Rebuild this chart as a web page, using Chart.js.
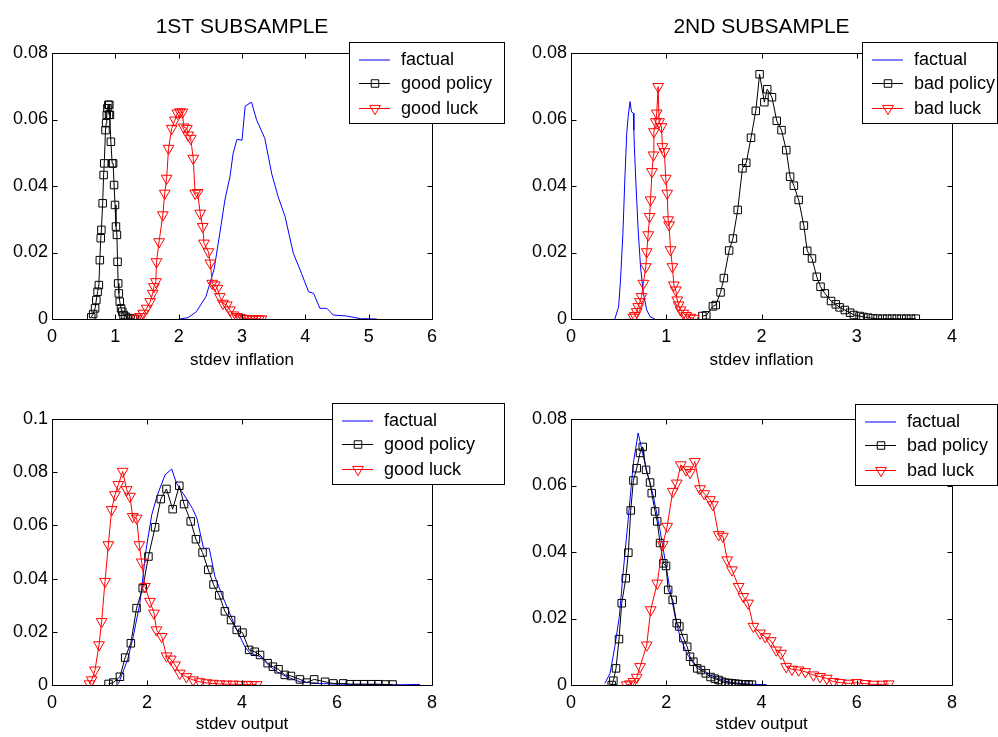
<!DOCTYPE html>
<html>
  <head>
    <title>Subsamples</title>
    <script src="https://cdn.jsdelivr.net/npm/chart.js"></script>
    <style>
      body { margin: 0; background: #fff; width: 998px; height: 737px; position: relative; overflow: hidden; }
      canvas { position: absolute; }
    </style>
  </head>
  <body>
    <canvas id="g1" width="520" height="375" style="left:0px;top:0px"></canvas>
    <canvas id="g2" width="498" height="375" style="left:500px;top:0px"></canvas>
    <canvas id="g3" width="520" height="362" style="left:0px;top:375px"></canvas>
    <canvas id="g4" width="498" height="362" style="left:500px;top:375px"></canvas>
  </body>
</html>

<script>
  // ---- ticks ----
  const ticksInfl1 = [0, 1, 2, 3, 4, 5, 6];
  const ticksInfl2 = [0, 1, 2, 3, 4];
  const ticksOutput = [0, 2, 4, 6, 8];
  const ticksY008 = [0, 0.02, 0.04, 0.06, 0.08];
  const ticksY01 = [0, 0.02, 0.04, 0.06, 0.08, 0.1];

  // ---- 1st subsample, stdev inflation ----
  const p1FactualX = [2.02, 2.15, 2.28, 2.43, 2.56, 2.65, 2.73, 2.81, 2.86, 2.92, 3.0, 3.05, 3.15, 3.23, 3.36, 3.47, 3.57, 3.68, 3.81, 3.94, 4.05, 4.13, 4.23, 4.34, 4.44, 4.65, 4.87, 5.13];
  const p1FactualY = [0, 0.0004, 0.0022, 0.0067, 0.015, 0.0258, 0.0358, 0.0428, 0.0498, 0.054, 0.0538, 0.064, 0.0652, 0.0599, 0.0543, 0.0436, 0.0368, 0.0308, 0.0198, 0.0137, 0.0082, 0.0077, 0.0032, 0.0032, 0.0012, 0.0009, 0.0001, 0];
  const p1PolicyX = [0.62, 0.65, 0.68, 0.70, 0.72, 0.74, 0.755, 0.77, 0.78, 0.80, 0.815, 0.825, 0.845, 0.855, 0.865, 0.875, 0.89, 0.90, 0.905, 0.915, 0.93, 0.95, 0.965, 0.98, 0.995, 1.01, 1.025, 1.035, 1.045, 1.055, 1.07, 1.09, 1.11, 1.13, 1.16, 1.20, 1.24, 1.28, 1.31];
  const p1PolicyY = [0.0005, 0.0015, 0.0032, 0.0057, 0.0082, 0.0102, 0.0177, 0.0243, 0.0268, 0.0348, 0.0433, 0.0468, 0.0568, 0.0589, 0.0614, 0.0634, 0.0644, 0.0614, 0.0644, 0.0614, 0.0533, 0.0468, 0.0468, 0.0403, 0.0343, 0.0278, 0.0253, 0.0172, 0.0107, 0.0077, 0.0052, 0.0032, 0.0022, 0.0012, 0.0007, 0.0003, 0.0001, 0, 0];
  const p1LuckX = [1.34, 1.39, 1.44, 1.495, 1.55, 1.59, 1.61, 1.64, 1.65, 1.69, 1.75, 1.78, 1.81, 1.84, 1.89, 1.94, 1.98, 2.02, 2.06, 2.08, 2.13, 2.15, 2.19, 2.23, 2.26, 2.30, 2.34, 2.38, 2.40, 2.47, 2.50, 2.53, 2.57, 2.61, 2.65, 2.70, 2.76, 2.81, 2.86, 2.92, 2.97, 3.02, 3.07, 3.12, 3.17, 3.22, 3.27, 3.31];
  const p1LuckY = [0.0002, 0.0007, 0.0017, 0.0032, 0.0052, 0.0077, 0.0097, 0.0112, 0.0172, 0.0232, 0.0313, 0.0378, 0.0423, 0.0513, 0.0573, 0.0598, 0.0619, 0.0623, 0.0622, 0.0577, 0.0573, 0.0553, 0.0543, 0.0483, 0.0378, 0.038, 0.0318, 0.0278, 0.0228, 0.0202, 0.0168, 0.0107, 0.0102, 0.0092, 0.0067, 0.0047, 0.0042, 0.0027, 0.0012, 0.0007, 0.0004, 0.0002, 0.0001, 0, 0, 0, 0, 0];

  // ---- 2nd subsample, stdev inflation ----
  const p2FactualX = [0.46, 0.50, 0.52, 0.545, 0.565, 0.585, 0.60, 0.62, 0.635, 0.655, 0.66, 0.665, 0.68, 0.705, 0.73, 0.76, 0.795, 0.83, 0.88];
  const p2FactualY = [0, 0.0037, 0.0117, 0.0258, 0.0418, 0.0558, 0.0608, 0.0654, 0.0623, 0.0619, 0.0568, 0.052, 0.0418, 0.0268, 0.0157, 0.0077, 0.0027, 0.0007, 0];
  const p2PolicyX = [1.38, 1.42, 1.49, 1.52, 1.57, 1.605, 1.66, 1.70, 1.75, 1.80, 1.84, 1.89, 1.94, 1.98, 2.03, 2.06, 2.11, 2.16, 2.21, 2.26, 2.30, 2.34, 2.39, 2.445, 2.48, 2.53, 2.58, 2.62, 2.665, 2.73, 2.78, 2.82, 2.875, 2.93, 2.97, 3.03, 3.07, 3.12, 3.17, 3.22, 3.27, 3.32, 3.37, 3.42, 3.47, 3.52, 3.57, 3.62];
  const p2PolicyY = [0.0009, 0.0011, 0.0038, 0.0042, 0.008, 0.0123, 0.0206, 0.0242, 0.0328, 0.0453, 0.047, 0.0545, 0.0626, 0.0736, 0.0652, 0.0691, 0.0667, 0.0596, 0.0568, 0.0508, 0.0428, 0.0401, 0.0358, 0.0281, 0.0205, 0.0182, 0.0127, 0.0097, 0.0077, 0.0054, 0.0044, 0.0035, 0.0027, 0.0019, 0.0012, 0.0009, 0.0006, 0.0004, 0.0002, 0.0001, 0.0001, 0.0001, 0.0001, 0.0001, 0.0001, 0.0001, 0.0001, 0.0001];
  const p2LuckX = [0.655, 0.67, 0.69, 0.705, 0.725, 0.74, 0.76, 0.785, 0.795, 0.81, 0.825, 0.835, 0.85, 0.865, 0.87, 0.89, 0.90, 0.915, 0.925, 0.95, 0.96, 0.98, 0.995, 1.01, 1.02, 1.03, 1.045, 1.065, 1.08, 1.10, 1.115, 1.13, 1.15, 1.18, 1.21, 1.25, 1.29];
  const p2LuckY = [0.0005, 0.001, 0.0022, 0.0037, 0.0052, 0.0067, 0.0107, 0.0157, 0.0202, 0.0253, 0.0308, 0.0358, 0.0443, 0.0493, 0.0563, 0.0593, 0.0619, 0.0699, 0.0593, 0.0578, 0.0518, 0.0503, 0.0423, 0.0378, 0.0298, 0.0283, 0.0208, 0.0157, 0.0102, 0.0087, 0.0057, 0.0042, 0.0027, 0.0017, 0.001, 0.0005, 0.0002];

  // ---- 1st subsample, stdev output ----
  const p3FactualX = [1.40, 1.47, 1.59, 1.71, 1.85, 1.98, 2.10, 2.22, 2.38, 2.52, 2.62, 2.73, 2.87, 2.97, 3.05, 3.12, 3.19, 3.31, 3.43, 3.57, 3.75, 3.89, 4.06, 4.17, 4.38, 4.56, 4.73, 4.94, 5.22, 5.57, 6.06, 6.62, 7.33, 7.75];
  const p3FactualY = [0.0005, 0.0038, 0.0094, 0.0182, 0.0307, 0.0508, 0.064, 0.0715, 0.079, 0.0812, 0.0759, 0.0728, 0.069, 0.0659, 0.0627, 0.0571, 0.0514, 0.0514, 0.0408, 0.0342, 0.0266, 0.0207, 0.0144, 0.0119, 0.0107, 0.0075, 0.005, 0.0031, 0.0012, 0.0006, 0.0003, 0.0002, 0.0001, 0.0002];
  const p3PolicyX = [1.19, 1.29, 1.43, 1.54, 1.66, 1.78, 1.91, 2.03, 2.17, 2.29, 2.41, 2.54, 2.68, 2.78, 2.92, 3.03, 3.17, 3.29, 3.40, 3.52, 3.64, 3.77, 3.89, 4.01, 4.15, 4.27, 4.38, 4.54, 4.65, 4.77, 4.90, 5.03, 5.22, 5.36, 5.52, 5.75, 5.92, 6.13, 6.27, 6.42, 6.57, 6.72, 6.87, 7.02, 7.17];
  const p3PolicyY = [0.0004, 0.0009, 0.0031, 0.0103, 0.0157, 0.0289, 0.0364, 0.0483, 0.0593, 0.0699, 0.0737, 0.0661, 0.0749, 0.068, 0.0615, 0.0548, 0.0498, 0.0433, 0.0378, 0.0337, 0.0277, 0.0244, 0.0207, 0.0197, 0.0132, 0.0125, 0.0113, 0.0082, 0.0069, 0.0059, 0.0038, 0.0034, 0.0021, 0.0009, 0.0021, 0.0012, 0.0006, 0.0006, 0.0003, 0.0003, 0.0003, 0.0003, 0.0003, 0.0002, 0.0002];
  const p3LuckX = [0.79, 0.835, 0.905, 0.99, 1.045, 1.116, 1.186, 1.256, 1.326, 1.396, 1.488, 1.572, 1.642, 1.698, 1.782, 1.838, 1.888, 1.958, 2.063, 2.147, 2.20, 2.31, 2.41, 2.50, 2.59, 2.69, 2.83, 2.97, 3.11, 3.25, 3.39, 3.53, 3.67, 3.81, 3.95, 4.09, 4.20, 4.31];
  const p3LuckY = [0.0004, 0.0019, 0.0056, 0.0151, 0.0238, 0.0389, 0.0527, 0.0659, 0.0715, 0.0753, 0.0803, 0.0734, 0.0709, 0.0633, 0.0627, 0.0527, 0.0462, 0.037, 0.0314, 0.027, 0.0207, 0.0182, 0.0109, 0.0097, 0.0075, 0.0044, 0.0031, 0.0019, 0.0012, 0.0008, 0.0006, 0.0004, 0.0003, 0.0003, 0.0002, 0.0002, 0.0001, 0.0001];

  // ---- 2nd subsample, stdev output ----
  const p4FactualX = [0.71, 0.82, 0.92, 1.015, 1.10, 1.20, 1.31, 1.41, 1.52, 1.62, 1.73, 1.87, 1.975, 2.08, 2.185, 2.29, 2.43, 2.57, 2.78, 2.92, 3.2, 3.5, 3.8, 4.11];
  const p4FactualY = [0.0005, 0.0035, 0.0115, 0.0206, 0.0346, 0.0497, 0.0668, 0.0758, 0.0687, 0.0627, 0.0567, 0.0465, 0.0376, 0.0286, 0.0206, 0.0145, 0.0095, 0.0065, 0.0045, 0.003, 0.0012, 0.0005, 0.0002, 0.0001];
  const p4PolicyX = [0.855, 0.89, 0.945, 1.008, 1.065, 1.15, 1.204, 1.254, 1.31, 1.38, 1.45, 1.506, 1.576, 1.66, 1.695, 1.765, 1.81, 1.87, 1.94, 1.996, 2.04, 2.135, 2.22, 2.275, 2.36, 2.44, 2.50, 2.57, 2.65, 2.73, 2.83, 2.93, 3.02, 3.10, 3.17, 3.24, 3.31, 3.38, 3.45, 3.52, 3.59, 3.66, 3.73, 3.80];
  const p4PolicyY = [0, 0.0013, 0.005, 0.0138, 0.0246, 0.0321, 0.0398, 0.0525, 0.0615, 0.0652, 0.0698, 0.0716, 0.0647, 0.0609, 0.0577, 0.0522, 0.0492, 0.0427, 0.0366, 0.0358, 0.0286, 0.0256, 0.0186, 0.0176, 0.0141, 0.0115, 0.0085, 0.007, 0.005, 0.0045, 0.0035, 0.0024, 0.0019, 0.0015, 0.001, 0.0007, 0.0006, 0.0005, 0.0004, 0.0003, 0.0002, 0.0002, 0.0001, 0.0001];
  const p4LuckX = [1.17, 1.24, 1.31, 1.38, 1.45, 1.59, 1.674, 1.81, 1.926, 2.02, 2.135, 2.22, 2.305, 2.416, 2.5, 2.6, 2.71, 2.80, 2.92, 2.98, 3.1, 3.19, 3.28, 3.38, 3.52, 3.62, 3.72, 3.83, 3.97, 4.08, 4.195, 4.31, 4.41, 4.52, 4.64, 4.78, 4.92, 5.09, 5.23, 5.37, 5.51, 5.65, 5.83, 6.0, 6.18, 6.35, 6.53, 6.67];
  const p4LuckY = [0, 0.0003, 0.001, 0.0023, 0.0055, 0.012, 0.0226, 0.0306, 0.0422, 0.0477, 0.0582, 0.0607, 0.0662, 0.0647, 0.0639, 0.0672, 0.059, 0.0575, 0.0557, 0.0542, 0.0452, 0.0447, 0.0376, 0.0346, 0.0296, 0.0266, 0.0246, 0.0176, 0.0156, 0.0145, 0.0133, 0.0105, 0.0095, 0.0055, 0.0047, 0.0045, 0.004, 0.003, 0.0025, 0.002, 0.001, 0.0007, 0.0005, 0.0007, 0.0004, 0.0002, 0.0002, 0.0003];

  const fonte = '"Liberation Sans", Arial, sans-serif';

  // junta os arrays x e y em pontos {x, y}
  function pontos(xs, ys) {
    return xs.map((x, i) => ({ x: x, y: ys[i] }));
  }

  // estilos das três séries (tipo matlab: linha azul, quadrados pretos, triângulos vermelhos)
  function serieFactual(xs, ys) {
    return { label: "factual", data: pontos(xs, ys), borderColor: "#0000ff", borderWidth: 1, pointRadius: 0, order: 3 };
  }
  function serieQuadrado(label, xs, ys) {
    return {
      label: label, data: pontos(xs, ys), borderColor: "#000000", borderWidth: 1,
      pointStyle: "rect", pointRadius: 5.3, pointBorderColor: "#000000",
      pointBackgroundColor: "rgba(0,0,0,0)", pointBorderWidth: 1, order: 2,
    };
  }
  function serieTriangulo(label, xs, ys) {
    return {
      label: label, data: pontos(xs, ys), borderColor: "#ff0000", borderWidth: 1,
      pointStyle: "triangle", pointRotation: 180, pointRadius: 6.2, pointBorderColor: "#ff0000",
      pointBackgroundColor: "rgba(0,0,0,0)", pointBorderWidth: 1, order: 1,
    };
  }

  // caixa dos eixos com ticks para dentro
  const caixaEixos = {
    id: "caixaEixos",
    afterDatasetsDraw(chart) {
      const ctx = chart.ctx;
      const a = chart.chartArea;
      const sx = chart.scales.x;
      const sy = chart.scales.y;
      const l = Math.round(a.left) + 0.5, r = Math.round(a.right) + 0.5;
      const t = Math.round(a.top) + 0.5, b = Math.round(a.bottom) + 0.5;
      ctx.save();
      ctx.strokeStyle = "#000";
      ctx.lineWidth = 1;
      ctx.beginPath();
      ctx.rect(l, t, r - l, b - t);
      sx.ticks.forEach((tk) => {
        const px = Math.round(sx.getPixelForValue(tk.value)) + 0.5;
        ctx.moveTo(px, b); ctx.lineTo(px, b - 5);
        ctx.moveTo(px, t); ctx.lineTo(px, t + 5);
      });
      sy.ticks.forEach((tk) => {
        const py = Math.round(sy.getPixelForValue(tk.value)) + 0.5;
        ctx.moveTo(l, py); ctx.lineTo(l + 5, py);
        ctx.moveTo(r, py); ctx.lineTo(r - 5, py);
      });
      ctx.stroke();
      ctx.restore();
    },
  };

  // legenda com borda, desenhada por cima do gráfico
  const legendaCaixa = {
    id: "legendaCaixa",
    afterDraw(chart, args, opts) {
      const ctx = chart.ctx;
      ctx.save();
      ctx.fillStyle = "#fff";
      ctx.fillRect(opts.x, opts.y, opts.w, opts.h);
      ctx.strokeStyle = "#000";
      ctx.lineWidth = 1;
      ctx.strokeRect(opts.x + 0.5, opts.y + 0.5, opts.w, opts.h);
      ctx.font = "18px " + fonte;
      ctx.textBaseline = "middle";
      chart.data.datasets.forEach((ds, i) => {
        const y = Math.round(opts.y + 16.5 + i * 24.5) + 0.5;
        // a linha azul sem marcador fica meio pixel deslocada, como no original
        const yl = ds.pointRadius > 0 ? y : y + 0.5;
        ctx.strokeStyle = ds.borderColor;
        ctx.lineWidth = 1;
        ctx.beginPath();
        ctx.moveTo(opts.x + 10, yl);
        ctx.lineTo(opts.x + 41, yl);
        ctx.stroke();
        if (ds.pointRadius > 0) {
          ctx.fillStyle = "rgba(0,0,0,0)";
          Chart.helpers.drawPoint(ctx, { pointStyle: ds.pointStyle, rotation: ds.pointRotation || 0, radius: ds.pointRadius, borderWidth: 1 }, opts.x + 26, y);
        }
        ctx.fillStyle = "#000";
        ctx.fillText(ds.label, opts.x + 52, y + 1);
      });
      ctx.restore();
    },
  };

  function montarGrafico(id, p) {
    const config = {
      type: "line",
      data: { datasets: p.series },
      options: {
        responsive: false,
        animation: false,
        devicePixelRatio: 1,
        events: [],
        layout: { padding: { left: 0, right: p.padRight, top: p.padTop, bottom: 0 } },
        plugins: {
          legend: { display: false },
          tooltip: { enabled: false },
          title: {
            display: !!p.titulo,
            text: p.titulo,
            fullSize: false,
            color: "#000",
            font: { family: fonte, size: 21, weight: "normal" },
            padding: { top: 14.4, bottom: 13.4 },
          },
          legendaCaixa: p.legenda,
        },
        scales: {
          x: {
            type: "linear",
            min: p.xTicks[0],
            max: p.xTicks[p.xTicks.length - 1],
            afterBuildTicks: (s) => { s.ticks = p.xTicks.map((v) => ({ value: v })); },
            afterFit: (s) => { s.height = p.xAltura; },
            grid: { display: false, drawTicks: false },
            border: { display: false },
            ticks: { color: "#000", font: { family: fonte, size: 18 }, padding: 7, maxRotation: 0, callback: (v) => String(v) },
            title: { display: true, text: p.xTitulo, color: "#000", font: { family: fonte, size: 17 }, padding: { top: 0, bottom: p.xTituloPad } },
          },
          y: {
            min: p.yTicks[0],
            max: p.yTicks[p.yTicks.length - 1],
            afterBuildTicks: (s) => { s.ticks = p.yTicks.map((v) => ({ value: v })); },
            afterFit: (s) => { s.width = p.yLargura; },
            grid: { display: false, drawTicks: false },
            border: { display: false },
            ticks: { color: "#000", font: { family: fonte, size: 18 }, padding: 4, callback: (v) => String(v) },
          },
        },
      },
      plugins: [caixaEixos, legendaCaixa],
    };
    return new Chart(document.getElementById(id), config);
  }

  montarGrafico("g1", {
    titulo: "1ST SUBSAMPLE", xTitulo: "stdev inflation",
    xTicks: ticksInfl1, yTicks: ticksY008,
    padTop: 0, padRight: 88, yLargura: 52, xAltura: 56, xTituloPad: 4.8,
    legenda: { x: 349, y: 42, w: 155, h: 81 },
    series: [serieFactual(p1FactualX, p1FactualY), serieQuadrado("good policy", p1PolicyX, p1PolicyY), serieTriangulo("good luck", p1LuckX, p1LuckY)],
  });

  montarGrafico("g2", {
    titulo: "2ND SUBSAMPLE", xTitulo: "stdev inflation",
    xTicks: ticksInfl2, yTicks: ticksY008,
    padTop: 0, padRight: 46, yLargura: 71, xAltura: 56, xTituloPad: 4.8,
    legenda: { x: 362, y: 42, w: 135, h: 81 },
    series: [serieFactual(p2FactualX, p2FactualY), serieQuadrado("bad policy", p2PolicyX, p2PolicyY), serieTriangulo("bad luck", p2LuckX, p2LuckY)],
  });

  montarGrafico("g3", {
    titulo: "", xTitulo: "stdev output",
    xTicks: ticksOutput, yTicks: ticksY01,
    padTop: 44, padRight: 88, yLargura: 52, xAltura: 52, xTituloPad: 2.8,
    legenda: { x: 332, y: 28, w: 172, h: 81 },
    series: [serieFactual(p3FactualX, p3FactualY), serieQuadrado("good policy", p3PolicyX, p3PolicyY), serieTriangulo("good luck", p3LuckX, p3LuckY)],
  });

  montarGrafico("g4", {
    titulo: "", xTitulo: "stdev output",
    xTicks: ticksOutput, yTicks: ticksY008,
    padTop: 44, padRight: 46, yLargura: 71, xAltura: 52, xTituloPad: 2.8,
    legenda: { x: 355, y: 29, w: 142, h: 81 },
    series: [serieFactual(p4FactualX, p4FactualY), serieQuadrado("bad policy", p4PolicyX, p4PolicyY), serieTriangulo("bad luck", p4LuckX, p4LuckY)],
  });
</script>
